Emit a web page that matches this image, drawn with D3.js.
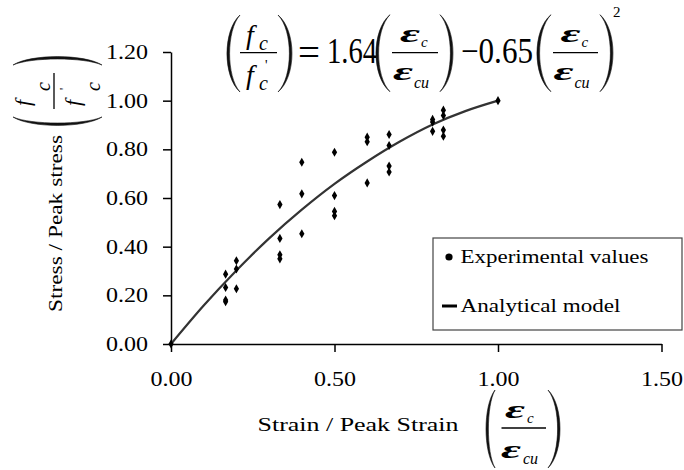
<!DOCTYPE html>
<html>
<head>
<meta charset="utf-8">
<script src="https://cdn.jsdelivr.net/npm/d3@7"></script>
<style>
    body { margin: 0; background: #fff; }
    svg { display: block; }
    text { font-family: "Liberation Serif", "Times New Roman", serif; fill: #000; }
</style>
</head>
<body>
<svg id="chart" width="684" height="470"></svg>
<script>
// experimental points (strain ratio, stress ratio)
const expStrain = [0, 0.167, 0.167, 0.167, 0.167, 0.2, 0.2, 0.2, 0.333, 0.333, 0.333, 0.333,
    0.4, 0.4, 0.4, 0.5, 0.5, 0.5, 0.5, 0.6, 0.6, 0.6, 0.667, 0.667, 0.667, 0.667,
    0.8, 0.8, 0.8, 0.833, 0.833, 0.833, 0.833, 1.0];
const expStress = [0, 0.287, 0.232, 0.181, 0.174, 0.342, 0.308, 0.227, 0.573, 0.434, 0.367, 0.350,
    0.747, 0.617, 0.453, 0.788, 0.610, 0.545, 0.527, 0.850, 0.831, 0.662, 0.861, 0.816, 0.731, 0.707,
    0.923, 0.912, 0.874, 0.961, 0.939, 0.879, 0.854, 1.0];

// analytical model curve
const modelStrain = [0, 0.1, 0.2, 0.3, 0.4, 0.5, 0.6, 0.7, 0.8, 0.9, 1.0];
const modelStress = [0, 0.158, 0.302, 0.434, 0.552, 0.658, 0.750, 0.832, 0.902, 0.957, 1.0];

const xTicks = [0, 0.5, 1.0, 1.5];
const yTicks = [0, 0.2, 0.4, 0.6, 0.8, 1.0, 1.2];
const legendLabels = ["Experimental values", "Analytical model"];
const xTitle = "Strain / Peak Strain";
const yTitle = "Stress / Peak stress";

const svg = d3.select("#chart");
const x = d3.scaleLinear().domain([0, 1.5]).range([171, 661.5]);
const y = d3.scaleLinear().domain([0, 1.2]).range([344, 52]);
const serif = '"Liberation Serif", "Times New Roman", serif';

// small helpers for the equation pieces
function glyph(g, str, gx, gy, size, opts = {}) {
    const t = g.append("text")
        .attr("x", gx).attr("y", gy)
        .attr("font-size", size)
        .attr("font-family", opts.family || serif)
        .attr("font-style", opts.italic ? "italic" : "normal")
        .attr("font-weight", opts.bold ? "bold" : "normal")
        .text(str);
    if (opts.anchor) t.attr("text-anchor", opts.anchor);
    if (opts.width) t.attr("textLength", opts.width).attr("lengthAdjust", "spacingAndGlyphs");
    return t;
}

// filled crescent bracket; xe = end points, xo = outer bulge
function paren(g, xe, xo, y0, y1, thick) {
    const h = y1 - y0;
    const xi = xo + thick;
    const bo = (xo - 0.25 * xe) / 0.75;
    const bi = (xi - 0.25 * xe) / 0.75;
    g.append("path")
        .attr("d", `M${xe},${y0} C${bo},${y0 + h * 0.2} ${bo},${y1 - h * 0.2} ${xe},${y1}` +
            ` C${bi},${y1 - h * 0.2} ${bi},${y0 + h * 0.2} ${xe},${y0} Z`)
        .attr("fill", "#111").attr("stroke", "#111").attr("stroke-width", 0.6);
}

function bar(g, x1, x2, by) {
    g.append("line").attr("x1", x1).attr("x2", x2).attr("y1", by).attr("y2", by)
        .attr("stroke", "#000").attr("stroke-width", 1.3);
}

const epsFamily = '"DejaVu Serif", serif';

function epsFraction(g, left, right, by) {
    const cx = (left + right) / 2;
    paren(g, left - 2, left - 16, by - 38, by + 39, 2.6);
    paren(g, right + 2, right + 15, by - 38, by + 39, -2.6);
    bar(g, left, right, by);
    glyph(g, "ε", cx - 15, by - 11, 26, { italic: true, bold: true, family: epsFamily, width: 20 });
    glyph(g, "c", cx + 6, by - 6, 15, { italic: true });
    glyph(g, "ε", cx - 22, by + 27, 26, { italic: true, bold: true, family: epsFamily, width: 20 });
    glyph(g, "cu", cx - 1, by + 35, 16, { italic: true });
}

// ---- equation at the top ----
const eq = svg.append("g");
paren(eq, 240, 227, 15, 92, 2.6);
paren(eq, 278, 292, 15, 92, -2.6);
bar(eq, 240, 277, 52.7);
glyph(eq, "f", 246, 44, 28, { italic: true });
glyph(eq, "c", 259, 50, 20, { italic: true });
glyph(eq, "f", 246, 84, 28, { italic: true });
glyph(eq, "'", 265, 70, 14);
glyph(eq, "c", 259, 90, 20, { italic: true });
glyph(eq, "=", 298, 66, 40, { width: 22 });
glyph(eq, "1.64", 327, 63, 36, { width: 50 });
epsFraction(eq, 392, 438, 52.7);
glyph(eq, "−0.65", 461, 63, 36, { width: 72 });
epsFraction(eq, 553, 598, 52.7);
glyph(eq, "2", 613, 17, 15);

// ---- axes ----
const yAxis = svg.append("g")
    .attr("transform", `translate(${x(0)},0)`)
    .call(d3.axisLeft(y).tickValues(yTicks).tickFormat(d3.format(".2f"))
        .tickSize(8).tickSizeOuter(0).tickPadding(15));
const xAxis = svg.append("g")
    .attr("transform", `translate(0,${y(0)})`)
    .call(d3.axisBottom(x).tickValues(xTicks).tickFormat(d3.format(".2f"))
        .tickSize(8).tickSizeOuter(0).tickPadding(20));
[yAxis, xAxis].forEach((a) => {
    a.attr("font-family", serif).attr("font-size", 20);
    a.selectAll("path, line").attr("stroke", "#000").attr("stroke-width", 1.5);
    a.selectAll("text").attr("fill", "#000")
        .attr("textLength", 42).attr("lengthAdjust", "spacingAndGlyphs");
});
yAxis.selectAll("text").attr("dy", "0.33em");

// ---- model curve and points ----
const line = d3.line()
    .x((d) => x(d[0]))
    .y((d) => y(d[1]))
    .curve(d3.curveMonotoneX);
svg.append("path")
    .datum(modelStrain.map((s, i) => [s, modelStress[i]]))
    .attr("d", line)
    .attr("fill", "none")
    .attr("stroke", "#333")
    .attr("stroke-width", 2.2);

svg.append("g").selectAll("path")
    .data(expStrain.map((s, i) => [s, expStress[i]]))
    .join("path")
    .attr("transform", (d) => `translate(${x(d[0])},${y(d[1])})`)
    .attr("d", d3.symbol(d3.symbolDiamond, 24))
    .attr("fill", "#000");

// ---- axis titles ----
glyph(svg, xTitle, 257.5, 431, 19, { width: 201 });
const xf = svg.append("g");
paren(xf, 495, 486, 390, 468, 2.4);
paren(xf, 548, 560, 390, 468, -2.4);
bar(xf, 501.5, 546, 428);
glyph(xf, "ε", 505, 418, 26, { italic: true, bold: true, family: epsFamily, width: 20 });
glyph(xf, "c", 527, 423, 15, { italic: true });
glyph(xf, "ε", 501, 458, 26, { italic: true, bold: true, family: epsFamily, width: 20 });
glyph(xf, "cu", 523, 464, 16, { italic: true });

glyph(svg.append("g").attr("transform", "translate(62,223.5) rotate(-90)"),
    yTitle, 0, 0, 19, { anchor: "middle", width: 177 });

const yf = svg.append("g").attr("transform", "translate(54,91) rotate(-90)");
paren(yf, -26, -32, -41, 48, -2.4);
paren(yf, 26, 32, -41, 48, 2.4);
bar(yf, -18, 18, 0);
glyph(yf, "f", -15, -24, 22, { italic: true });
glyph(yf, "c", 0, -4, 20, { italic: true });
glyph(yf, "f", -15, 26, 22, { italic: true });
glyph(yf, "'", 1, 14, 12);
glyph(yf, "c", 0, 46, 20, { italic: true });

// ---- legend ----
const legend = svg.append("g");
legend.append("rect")
    .attr("x", 433).attr("y", 238).attr("width", 249).attr("height", 92)
    .attr("fill", "#fff").attr("stroke", "#444").attr("stroke-width", 1.2);
legend.append("circle").attr("cx", 449).attr("cy", 257).attr("r", 3.6).attr("fill", "#000");
glyph(legend, legendLabels[0], 460.5, 263, 18, { width: 188 });
legend.append("line").attr("x1", 442).attr("x2", 457).attr("y1", 306).attr("y2", 306)
    .attr("stroke", "#000").attr("stroke-width", 3);
glyph(legend, legendLabels[1], 460.5, 312, 18, { width: 160 });
</script>
</body>
</html>
